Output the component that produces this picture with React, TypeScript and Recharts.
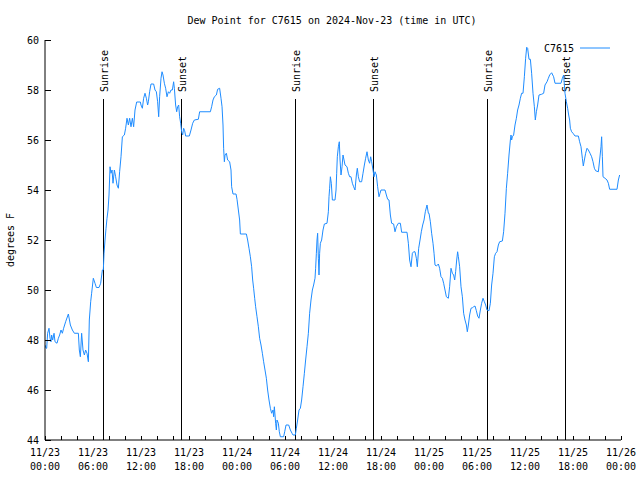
import { LineChart, Line, XAxis, YAxis, ReferenceLine } from "recharts";

// hours since 2024-11-23 00:00 UTC, dew point in °F — in half-day chunks
const nov23Am: [number, number][] = [
  [0, 47.8], [0.13, 47.67], [0.21, 47.67], [0.33, 48.27], [0.5, 48.47], [0.63, 48.07],
  [0.75, 47.93], [0.83, 48.2], [0.96, 48.0], [1.13, 48.27], [1.25, 47.93], [1.5, 47.87],
  [1.67, 48.07], [1.83, 48.2], [2.0, 48.4], [2.17, 48.27], [2.33, 48.47], [2.58, 48.73],
  [2.92, 49.04], [3.17, 48.6], [3.42, 48.4], [3.67, 48.27], [4.17, 48.27], [4.29, 47.6],
  [4.42, 47.33], [4.58, 48.27], [4.75, 47.6], [4.92, 47.4], [5.08, 47.6], [5.25, 47.47],
  [5.42, 47.13], [5.54, 48.8], [5.71, 49.53], [5.83, 49.87], [6.04, 50.47], [6.25, 50.27],
  [6.42, 50.1], [6.75, 50.1], [6.96, 50.27], [7.17, 50.8], [7.29, 50.8], [7.38, 51.47],
  [7.5, 52.0], [7.63, 52.47], [7.75, 52.87], [7.88, 53.2], [8.0, 53.8], [8.13, 54.93],
  [8.25, 54.67], [8.38, 54.8], [8.5, 54.27], [8.67, 54.8], [8.83, 54.53], [9.0, 54.2],
  [9.17, 54.07], [9.33, 54.73], [9.5, 55.33], [9.67, 56.13], [9.92, 56.2], [10.08, 56.47],
  [10.25, 56.87], [10.42, 56.6], [10.58, 56.87], [10.75, 56.53], [10.92, 56.87], [11.08, 56.53],
  [11.25, 57.2], [11.46, 57.52], [11.92, 57.52],
];

const nov23Pm: [number, number][] = [
  [12.0, 57.4], [12.17, 57.27], [12.33, 57.67], [12.5, 57.87], [12.67, 57.67], [12.83, 57.4],
  [12.92, 57.53], [13.08, 57.93], [13.25, 58.24], [13.58, 58.24], [13.75, 58.0], [13.92, 57.93],
  [14.08, 57.53], [14.21, 56.93], [14.33, 57.73], [14.5, 58.47], [14.63, 58.73], [14.75, 58.6],
  [14.92, 58.27], [15.08, 58.07], [15.25, 57.73], [15.42, 57.93], [15.58, 57.87], [15.75, 58.0],
  [15.92, 58.0], [16.08, 58.33], [16.17, 58.07], [16.33, 57.4], [16.46, 57.13], [16.58, 57.33],
  [16.71, 57.4], [16.83, 56.93], [16.96, 56.67], [17.08, 56.33], [17.21, 56.2], [17.33, 56.47],
  [17.46, 56.37], [17.58, 56.16], [18.04, 56.16], [18.25, 56.4], [18.46, 56.67], [18.67, 56.8],
  [19.17, 56.83], [19.33, 57.13], [20.67, 57.13], [20.83, 57.33], [21.0, 57.6], [21.17, 57.73],
  [21.42, 57.8], [21.58, 58.03], [21.83, 58.07], [22.0, 57.67], [22.13, 57.33], [22.25, 56.6],
  [22.33, 55.67], [22.42, 55.13], [22.5, 55.4], [22.67, 55.47], [22.83, 55.2], [23.08, 55.13],
  [23.25, 54.8], [23.33, 54.13], [23.5, 53.84], [23.88, 53.84],
];

const nov24Am: [number, number][] = [
  [24.0, 53.63], [24.17, 53.2], [24.33, 52.8], [24.42, 52.24], [25.17, 52.24], [25.33, 52.0],
  [25.5, 51.67], [25.67, 51.33], [25.83, 50.93], [25.96, 50.4], [26.08, 50.07], [26.21, 49.67],
  [26.33, 49.33], [26.5, 48.93], [26.67, 48.53], [26.83, 48.07], [27.0, 47.8], [27.17, 47.47],
  [27.33, 47.13], [27.5, 46.8], [27.67, 46.47], [27.83, 46.0], [28.0, 45.6], [28.17, 45.27],
  [28.33, 45.07], [28.5, 45.2], [28.58, 44.93], [28.67, 45.33], [28.83, 44.67], [28.92, 44.4],
  [29.0, 44.8], [29.17, 44.67], [29.29, 44.33], [29.42, 44.13], [29.83, 44.13], [29.96, 44.33],
  [30.13, 44.6], [30.46, 44.6], [30.67, 44.4], [30.88, 44.27], [31.0, 44.2], [31.29, 44.2],
  [31.42, 44.47], [31.58, 44.8], [31.75, 45.2], [31.92, 45.27], [32.08, 45.6], [32.25, 46.13],
  [32.42, 46.67], [32.58, 47.2], [32.75, 47.73], [32.92, 48.27], [33.08, 49.07], [33.25, 49.6],
  [33.42, 50.0], [33.58, 50.2], [33.75, 50.47], [33.83, 50.87], [33.92, 51.47], [34.0, 52.0],
  [34.08, 52.27], [34.17, 51.27], [34.25, 50.6], [34.33, 51.47], [34.42, 51.87], [34.58, 52.0],
  [34.75, 52.4], [34.92, 52.64], [35.25, 52.67], [35.42, 53.13], [35.5, 53.73], [35.58, 54.07],
  [35.67, 54.53], [35.79, 54.27], [35.92, 53.6],
];

const nov24Pm: [number, number][] = [
  [36.0, 53.6], [36.25, 53.6], [36.38, 54.0], [36.46, 54.67], [36.54, 55.33], [36.67, 55.73],
  [36.79, 55.93], [36.88, 55.2], [37.0, 54.6], [37.13, 54.93], [37.25, 55.4], [37.38, 55.2],
  [37.5, 55.0], [37.75, 54.93], [37.92, 54.67], [38.08, 54.53], [38.25, 54.53], [38.42, 54.27],
  [38.58, 54.13], [38.75, 54.0], [38.92, 54.6], [39.04, 54.87], [39.17, 54.53], [39.33, 54.33],
  [39.58, 54.33], [39.75, 54.67], [39.92, 55.0], [40.08, 55.27], [40.25, 55.53], [40.42, 55.2],
  [40.58, 55.07], [40.71, 55.33], [40.83, 55.13], [41.0, 54.8], [41.13, 54.53], [41.25, 54.73],
  [41.42, 54.6], [41.58, 54.13], [41.75, 53.73], [41.88, 53.87], [42.0, 54.0], [42.5, 54.0],
  [42.67, 53.8], [42.83, 53.63], [43.0, 53.6], [43.17, 53.0], [43.33, 52.67], [43.58, 52.64],
  [43.75, 52.33], [43.92, 52.53], [44.17, 52.67], [44.42, 52.67], [44.58, 52.31], [45.25, 52.31],
  [45.42, 51.87], [45.58, 51.2], [45.75, 50.93], [45.92, 51.47], [46.08, 51.53], [46.25, 51.53],
  [46.42, 51.27], [46.54, 50.93], [46.71, 51.67], [46.88, 52.0], [47.04, 52.33], [47.21, 52.6],
  [47.38, 52.8], [47.54, 53.13], [47.75, 53.4], [47.92, 53.07],
];

const nov25Am: [number, number][] = [
  [48.0, 53.07], [48.17, 52.73], [48.33, 52.27], [48.5, 51.87], [48.63, 51.47], [48.75, 51.0],
  [48.92, 50.96], [49.17, 51.04], [49.33, 50.87], [49.5, 50.53], [49.67, 50.47], [49.83, 50.27],
  [50.0, 50.0], [50.17, 49.73], [50.42, 49.67], [50.58, 50.13], [50.75, 50.87], [50.92, 50.67],
  [51.08, 50.6], [51.21, 50.4], [51.33, 50.73], [51.46, 51.2], [51.58, 51.53], [51.67, 51.33],
  [51.83, 50.93], [52.0, 50.13], [52.17, 49.73], [52.33, 49.07], [52.5, 48.8], [52.67, 48.6],
  [52.79, 48.33], [52.92, 48.6], [53.08, 49.0], [53.25, 49.27], [53.42, 49.29], [53.58, 49.33],
  [53.75, 49.36], [53.92, 49.17], [54.08, 48.96], [54.25, 48.87], [54.42, 49.2], [54.58, 49.47],
  [54.75, 49.67], [54.92, 49.53], [55.08, 49.4], [55.25, 49.2], [55.5, 49.17], [55.67, 49.47],
  [55.83, 50.2], [56.0, 50.67], [56.17, 51.33], [56.33, 51.47], [56.5, 51.53], [56.67, 51.8],
  [56.83, 51.93], [57.17, 51.96], [57.33, 52.33], [57.5, 53.07], [57.67, 54.07], [57.83, 54.67],
  [58.0, 55.4], [58.17, 56.0], [58.25, 56.2], [58.33, 56.0], [58.42, 56.13], [58.58, 56.2],
  [58.75, 56.6], [58.92, 56.87], [59.08, 57.2], [59.25, 57.4], [59.42, 57.67], [59.58, 57.87],
  [59.75, 57.87], [59.92, 58.53],
];

const nov25Pm: [number, number][] = [
  [60.08, 59.27], [60.21, 59.71], [60.33, 59.67], [60.5, 59.23], [60.67, 59.23], [60.83, 58.67],
  [61.0, 57.87], [61.17, 57.33], [61.29, 56.8], [61.42, 57.13], [61.58, 57.4], [61.75, 57.8],
  [62.08, 57.83], [62.33, 57.87], [62.5, 58.2], [62.75, 58.33], [62.92, 58.47], [63.08, 58.6],
  [63.33, 58.69], [63.58, 58.53], [63.75, 58.27], [64.5, 58.27], [64.67, 58.47], [64.83, 58.6],
  [65.0, 57.87], [65.17, 57.53], [65.33, 57.27], [65.46, 57.0], [65.58, 56.8], [65.67, 56.47],
  [65.83, 56.33], [66.0, 56.27], [66.25, 56.16], [66.67, 56.16], [66.83, 55.93], [67.0, 55.73],
  [67.17, 55.27], [67.29, 54.96], [67.42, 55.2], [67.58, 55.47], [67.75, 55.67], [67.92, 55.6],
  [68.13, 55.47], [68.33, 55.33], [68.5, 55.13], [68.67, 54.87], [68.83, 54.77], [69.17, 54.73],
  [69.33, 55.2], [69.5, 55.73], [69.58, 56.13], [69.67, 55.33], [69.75, 54.53], [70.0, 54.47],
  [70.25, 54.4], [70.42, 54.27], [70.58, 54.03], [71.5, 54.03], [71.67, 54.4], [71.83, 54.6],
];

const sunriseHours = [7.25, 31.25, 55.25];
const sunsetHours = [17, 41, 65];

const labelHours = [0, 6, 12, 18, 24, 30, 36, 42, 48, 54, 60, 66, 72];
const dateLabels = ["11/23", "11/23", "11/23", "11/23", "11/24", "11/24", "11/24", "11/24", "11/25", "11/25", "11/25", "11/25", "11/26"];
const timeLabels = ["00:00", "06:00", "12:00", "18:00", "00:00", "06:00", "12:00", "18:00", "00:00", "06:00", "12:00", "18:00", "00:00"];
const minorHours = [0, 2, 4, 6, 8, 10, 12, 14, 16, 18, 20, 22, 24, 26, 28, 30, 32, 34, 36, 38, 40, 42, 44, 46, 48, 50, 52, 54, 56, 58, 60, 62, 64, 66, 68, 70, 72];
const yTicks = [44, 46, 48, 50, 52, 54, 56, 58, 60];

const data = [...nov23Am, ...nov23Pm, ...nov24Am, ...nov24Pm, ...nov25Am, ...nov25Pm].map(
  ([hour, dew]) => ({ hour, dew })
);

const FONT = "'DejaVu Sans Mono', monospace";
const BLUE = "#1e8cff";
const MARKER_TOP = 57.64; // where the sunrise/sunset lines stop

function BottomTick(props: any) {
  const { x, y, payload } = props;
  const i = labelHours.indexOf(payload.value);
  return (
    <g>
      <line x1={x} y1={y} x2={x} y2={y - 4} stroke="#000" shapeRendering="crispEdges" />
      {i >= 0 && (
        <text x={x} y={y} textAnchor="middle" fontFamily={FONT} fontSize={10} fill="#000">
          <tspan x={x} dy={16}>{dateLabels[i]}</tspan>
          <tspan x={x} dy={14}>{timeLabels[i]}</tspan>
        </text>
      )}
    </g>
  );
}

function TopTick(props: any) {
  const { x, y } = props;
  return <line x1={x} y1={y} x2={x} y2={y + 4} stroke="#000" shapeRendering="crispEdges" />;
}

function LeftTick(props: any) {
  const { x, y, payload } = props;
  return (
    <g>
      <line x1={x} y1={y} x2={x + 6} y2={y} stroke="#000" shapeRendering="crispEdges" />
      <text x={x - 6} y={y} dy={4} textAnchor="end" fontFamily={FONT} fontSize={10} fill="#000">
        {payload.value}
      </text>
    </g>
  );
}

function RightTick(props: any) {
  const { x, y } = props;
  return <line x1={x} y1={y} x2={x - 6} y2={y} stroke="#000" shapeRendering="crispEdges" />;
}

// vertical sunrise/sunset line with its label standing above it, reading upward
function eventShape(text: string) {
  return (p: any) => {
    const top = Math.min(p.y1, p.y2);
    const tx = p.x1 + 5;
    const ty = top - 7;
    return (
      <g>
        <line x1={p.x1} y1={p.y1} x2={p.x2} y2={p.y2} stroke="#000" shapeRendering="crispEdges" />
        <text
          x={tx}
          y={ty}
          transform={`rotate(-90 ${tx} ${ty})`}
          textAnchor="start"
          fontFamily={FONT}
          fontSize={10}
          fill="#000"
        >
          {text}
        </text>
      </g>
    );
  };
}

export default function App() {
  return (
    <div style={{ position: "absolute", left: 0, top: 0, width: 640, height: 480, background: "#fff" }}>
      <LineChart width={640} height={480} data={data} margin={{ top: 40, right: 19, bottom: 0, left: 0 }}>
        <XAxis
          dataKey="hour"
          type="number"
          domain={[0, 72]}
          ticks={minorHours}
          interval={0}
          height={40}
          tickSize={0}
          tickMargin={0}
          tick={<BottomTick />}
          axisLine={{ stroke: "#000" }}
          allowDataOverflow
        />
        <XAxis
          xAxisId="top"
          orientation="top"
          dataKey="hour"
          type="number"
          domain={[0, 72]}
          ticks={minorHours}
          interval={0}
          height={0}
          tickSize={0}
          tickMargin={0}
          tick={<TopTick />}
          axisLine={{ stroke: "#000" }}
          allowDataOverflow
        />
        <YAxis
          domain={[44, 60]}
          ticks={yTicks}
          interval={0}
          width={45}
          tickSize={0}
          tickMargin={0}
          tick={<LeftTick />}
          axisLine={{ stroke: "#000" }}
          allowDataOverflow
        />
        <YAxis
          yAxisId="right"
          orientation="right"
          domain={[44, 60]}
          ticks={yTicks}
          interval={0}
          width={0}
          tickSize={0}
          tickMargin={0}
          tick={<RightTick />}
          axisLine={{ stroke: "#000" }}
          allowDataOverflow
        />
        {sunriseHours.map((h) => (
          <ReferenceLine
            key={`rise-${h}`}
            segment={[{ x: h, y: 44 }, { x: h, y: MARKER_TOP }]}
            stroke="#000"
            shape={eventShape("Sunrise")}
          />
        ))}
        {sunsetHours.map((h) => (
          <ReferenceLine
            key={`set-${h}`}
            segment={[{ x: h, y: 44 }, { x: h, y: MARKER_TOP }]}
            stroke="#000"
            shape={eventShape("Sunset")}
          />
        ))}
        <Line
          type="linear"
          dataKey="dew"
          stroke={BLUE}
          strokeWidth={1}
          dot={false}
          activeDot={false}
          isAnimationActive={false}
        />
      </LineChart>
      <svg
        width={640}
        height={480}
        style={{ position: "absolute", left: 0, top: 0, pointerEvents: "none" }}
      >
        <text x={332} y={24} textAnchor="middle" fontFamily={FONT} fontSize={10} fill="#000">
          Dew Point for C7615 on 2024-Nov-23 (time in UTC)
        </text>
        <text
          x={14}
          y={240}
          transform="rotate(-90 14 240)"
          textAnchor="middle"
          fontFamily={FONT}
          fontSize={10}
          fill="#000"
        >
          degrees F
        </text>
        <text x={574} y={52} textAnchor="end" fontFamily={FONT} fontSize={10} fill="#000">
          C7615
        </text>
        <line x1={580} y1={48} x2={610} y2={48} stroke={BLUE} />
      </svg>
    </div>
  );
}
